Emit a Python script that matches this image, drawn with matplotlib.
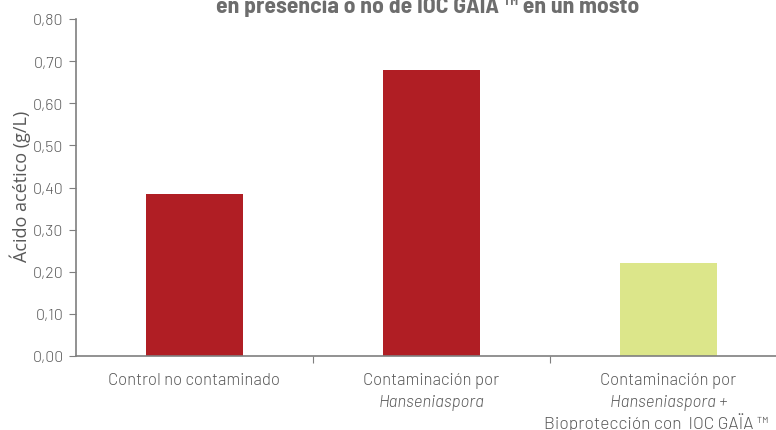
import matplotlib
matplotlib.use("Agg")
import matplotlib.pyplot as plt
from matplotlib import font_manager
from matplotlib.font_manager import FontProperties
from matplotlib.transforms import offset_copy
import os

categories = [
    [("Control no contaminado", "normal")],
    [("Contaminación por", "normal"), ("Hanseniaspora", "italic")],
    [("Contaminación por", "normal"), ("Hanseniaspora +", "italic"),
     ("Bioprotección con  IOC GAÏA ™", "normal")],
]
values = [0.385, 0.68, 0.22]
colors = ["#B01E24", "#B01E24", "#DCE68A"]
yticks = [0.0, 0.1, 0.2, 0.3, 0.4, 0.5, 0.6, 0.7, 0.8]
ytick_labels = ["0,00", "0,10", "0,20", "0,30", "0,40", "0,50", "0,60", "0,70", "0,80"]

_files = {os.path.basename(f.fname): f.fname for f in font_manager.fontManager.ttflist}
def fp(cands, size, fallback_style='normal', fallback_weight='normal'):
    for c in cands:
        if c in _files:
            return FontProperties(fname=_files[c], size=size)
    return FontProperties(family='DejaVu Sans', size=size, style=fallback_style,
                          weight=fallback_weight, stretch='condensed')

tick_fp = fp(["Barlow-Light.ttf", "Barlow-Regular.ttf", "BarlowSemiCondensed-Light.ttf"], 11.5)
lab_fp = fp(["Barlow-Light.ttf", "Barlow-Regular.ttf", "BarlowSemiCondensed-Light.ttf"], 12)
lab_it_fp = fp(["Barlow-LightItalic.ttf", "Barlow-Italic.ttf", "BarlowSemiCondensed-LightItalic.ttf"], 12, 'italic')
title_fp = fp(["BarlowSemiCondensed-Bold.ttf", "BarlowSemiCondensed-SemiBold.ttf"], 17, 'normal', 'bold')

gray = "#7F7F7F"
txt = "#595959"
fig = plt.figure(figsize=(7.76, 4.31), dpi=100)
ax = fig.add_axes([76/776, 74/431, 711/776, 337/431])
x = list(range(len(categories)))
ax.bar(x, values, width=0.41, color=colors)
ax.set_xlim(-0.5, 2.5)
ax.set_ylim(0, 0.8)
ax.set_yticks(yticks)
ax.set_yticklabels(ytick_labels, color=txt)
for t in ax.get_yticklabels():
    t.set_fontproperties(tick_fp)
ax.set_xticks([0.5, 1.5])
ax.set_xticklabels([])
ax.tick_params(axis='x', length=5, color=gray, direction='out')
ax.tick_params(axis='y', length=5, color=gray, direction='out', pad=4)

base = ax.get_xaxis_transform()
for i, lines in enumerate(categories):
    for j, (s, st) in enumerate(lines):
        dx = -12 if j == 2 else 0
        tr = offset_copy(base, fig=fig, x=dx * 72 / 100, y=-(28 + 22 * j) * 72 / 100, units='points')
        t = ax.text(i, 0, s, ha='center', va='baseline', color=txt,
                    fontproperties=lab_it_fp if st == 'italic' else lab_fp, transform=tr, clip_on=False)
        if j == 2:
            t.set_fontsize(12.5)

for s in ['top', 'right']:
    ax.spines[s].set_visible(False)
for s in ['left', 'bottom']:
    ax.spines[s].set_color(gray)
    ax.spines[s].set_linewidth(1.2)

fig.text(20/776, 1 - 186/431, "Ácido acético (g/L)", rotation=90, ha='center', va='center',
         fontsize=13, color=txt, family='Open Sans')
fig.text(428/776, 1.0 - 13/431, "en presencia o no de IOC GAÏA ™ en un mosto", ha='center',
         va='baseline', color="#6D6D6D", fontproperties=title_fp)
fig.savefig("out.png", dpi=100)
